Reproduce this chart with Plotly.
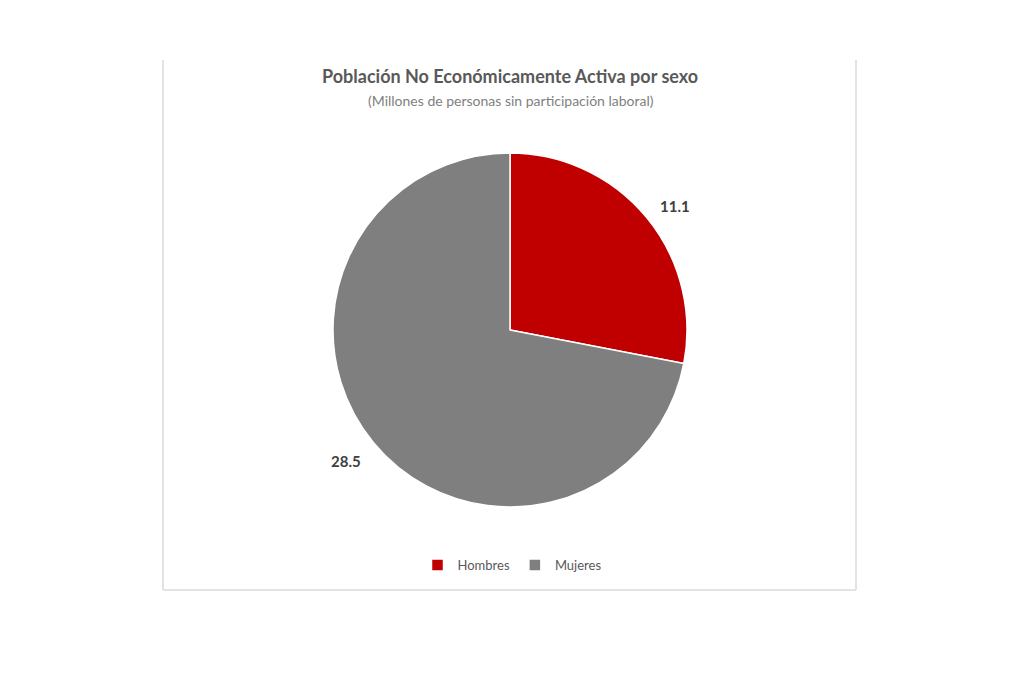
#!/usr/bin/env python3
"""Pie chart: Poblacion No Economicamente Activa por sexo."""

import plotly.graph_objects as go

W, H = 1024, 683
OFF = 8  # page offset seen in the screenshot

categorias = ["Hombres", "Mujeres"]
valores = [11.1, 28.5]
colores = ["#C00000", "#7F7F7F"]

titulo = "Población No Económicamente Activa por sexo"
subtitulo = "(Millones de personas sin participación laboral)"

FONT = "Lato, Open Sans, sans-serif"

# pie geometry in pixels (as seen in the picture)
cx, cy, r = 510, 330, 177


def px_x(x):
    return (x - OFF) / W


def px_y(y):
    return 1 - (y - OFF) / H


fig = go.Figure(
    go.Pie(
        labels=categorias,
        values=valores,
        marker=dict(colors=colores, line=dict(color="white", width=1.5)),
        sort=False,
        direction="clockwise",
        rotation=0,
        textinfo="none",
        hoverinfo="label+value",
        domain=dict(x=[px_x(cx - r), px_x(cx + r)], y=[px_y(cy + r), px_y(cy - r)]),
    )
)

# outside value labels
label_pos = [(675, 206), (346, 461)]
for v, (lx, ly) in zip(valores, label_pos):
    fig.add_annotation(
        x=px_x(lx), y=px_y(ly), xref="paper", yref="paper",
        xanchor="center", yanchor="middle",
        text=f"<b>{v:.1f}</b>", showarrow=False,
        font=dict(family=FONT, size=15, color="#404040"),
    )

fig.add_annotation(
    x=px_x(510), y=px_y(76), xref="paper", yref="paper",
    xanchor="center", yanchor="middle",
    text=f"<b>{titulo}</b>", showarrow=False,
    font=dict(family=FONT, size=18, color="#595959"),
)
fig.add_annotation(
    x=px_x(511), y=px_y(100), xref="paper", yref="paper",
    xanchor="center", yanchor="middle",
    text=subtitulo, showarrow=False,
    font=dict(family=FONT, size=14, color="#7F7F7F"),
)

# chart area frame (left, right, bottom)
frame = dict(type="line", xref="paper", yref="paper",
             line=dict(color="#E3E3E3", width=2))
fig.add_shape(x0=px_x(163), x1=px_x(163), y0=px_y(60), y1=px_y(590), **frame)
fig.add_shape(x0=px_x(856), x1=px_x(856), y0=px_y(60), y1=px_y(590), **frame)
fig.add_shape(x0=px_x(163), x1=px_x(856), y0=px_y(590), y1=px_y(590), **frame)

fig.update_layout(
    width=W,
    height=H,
    margin=dict(l=0, r=0, t=0, b=0),
    paper_bgcolor="white",
    plot_bgcolor="white",
    showlegend=True,
    legend=dict(
        orientation="h",
        x=px_x(512), xanchor="center",
        y=px_y(565), yanchor="middle",
        font=dict(family=FONT, size=13, color="#595959"),
        itemwidth=30,
        traceorder="normal",
    ),
)

fig.write_html("out.html")
